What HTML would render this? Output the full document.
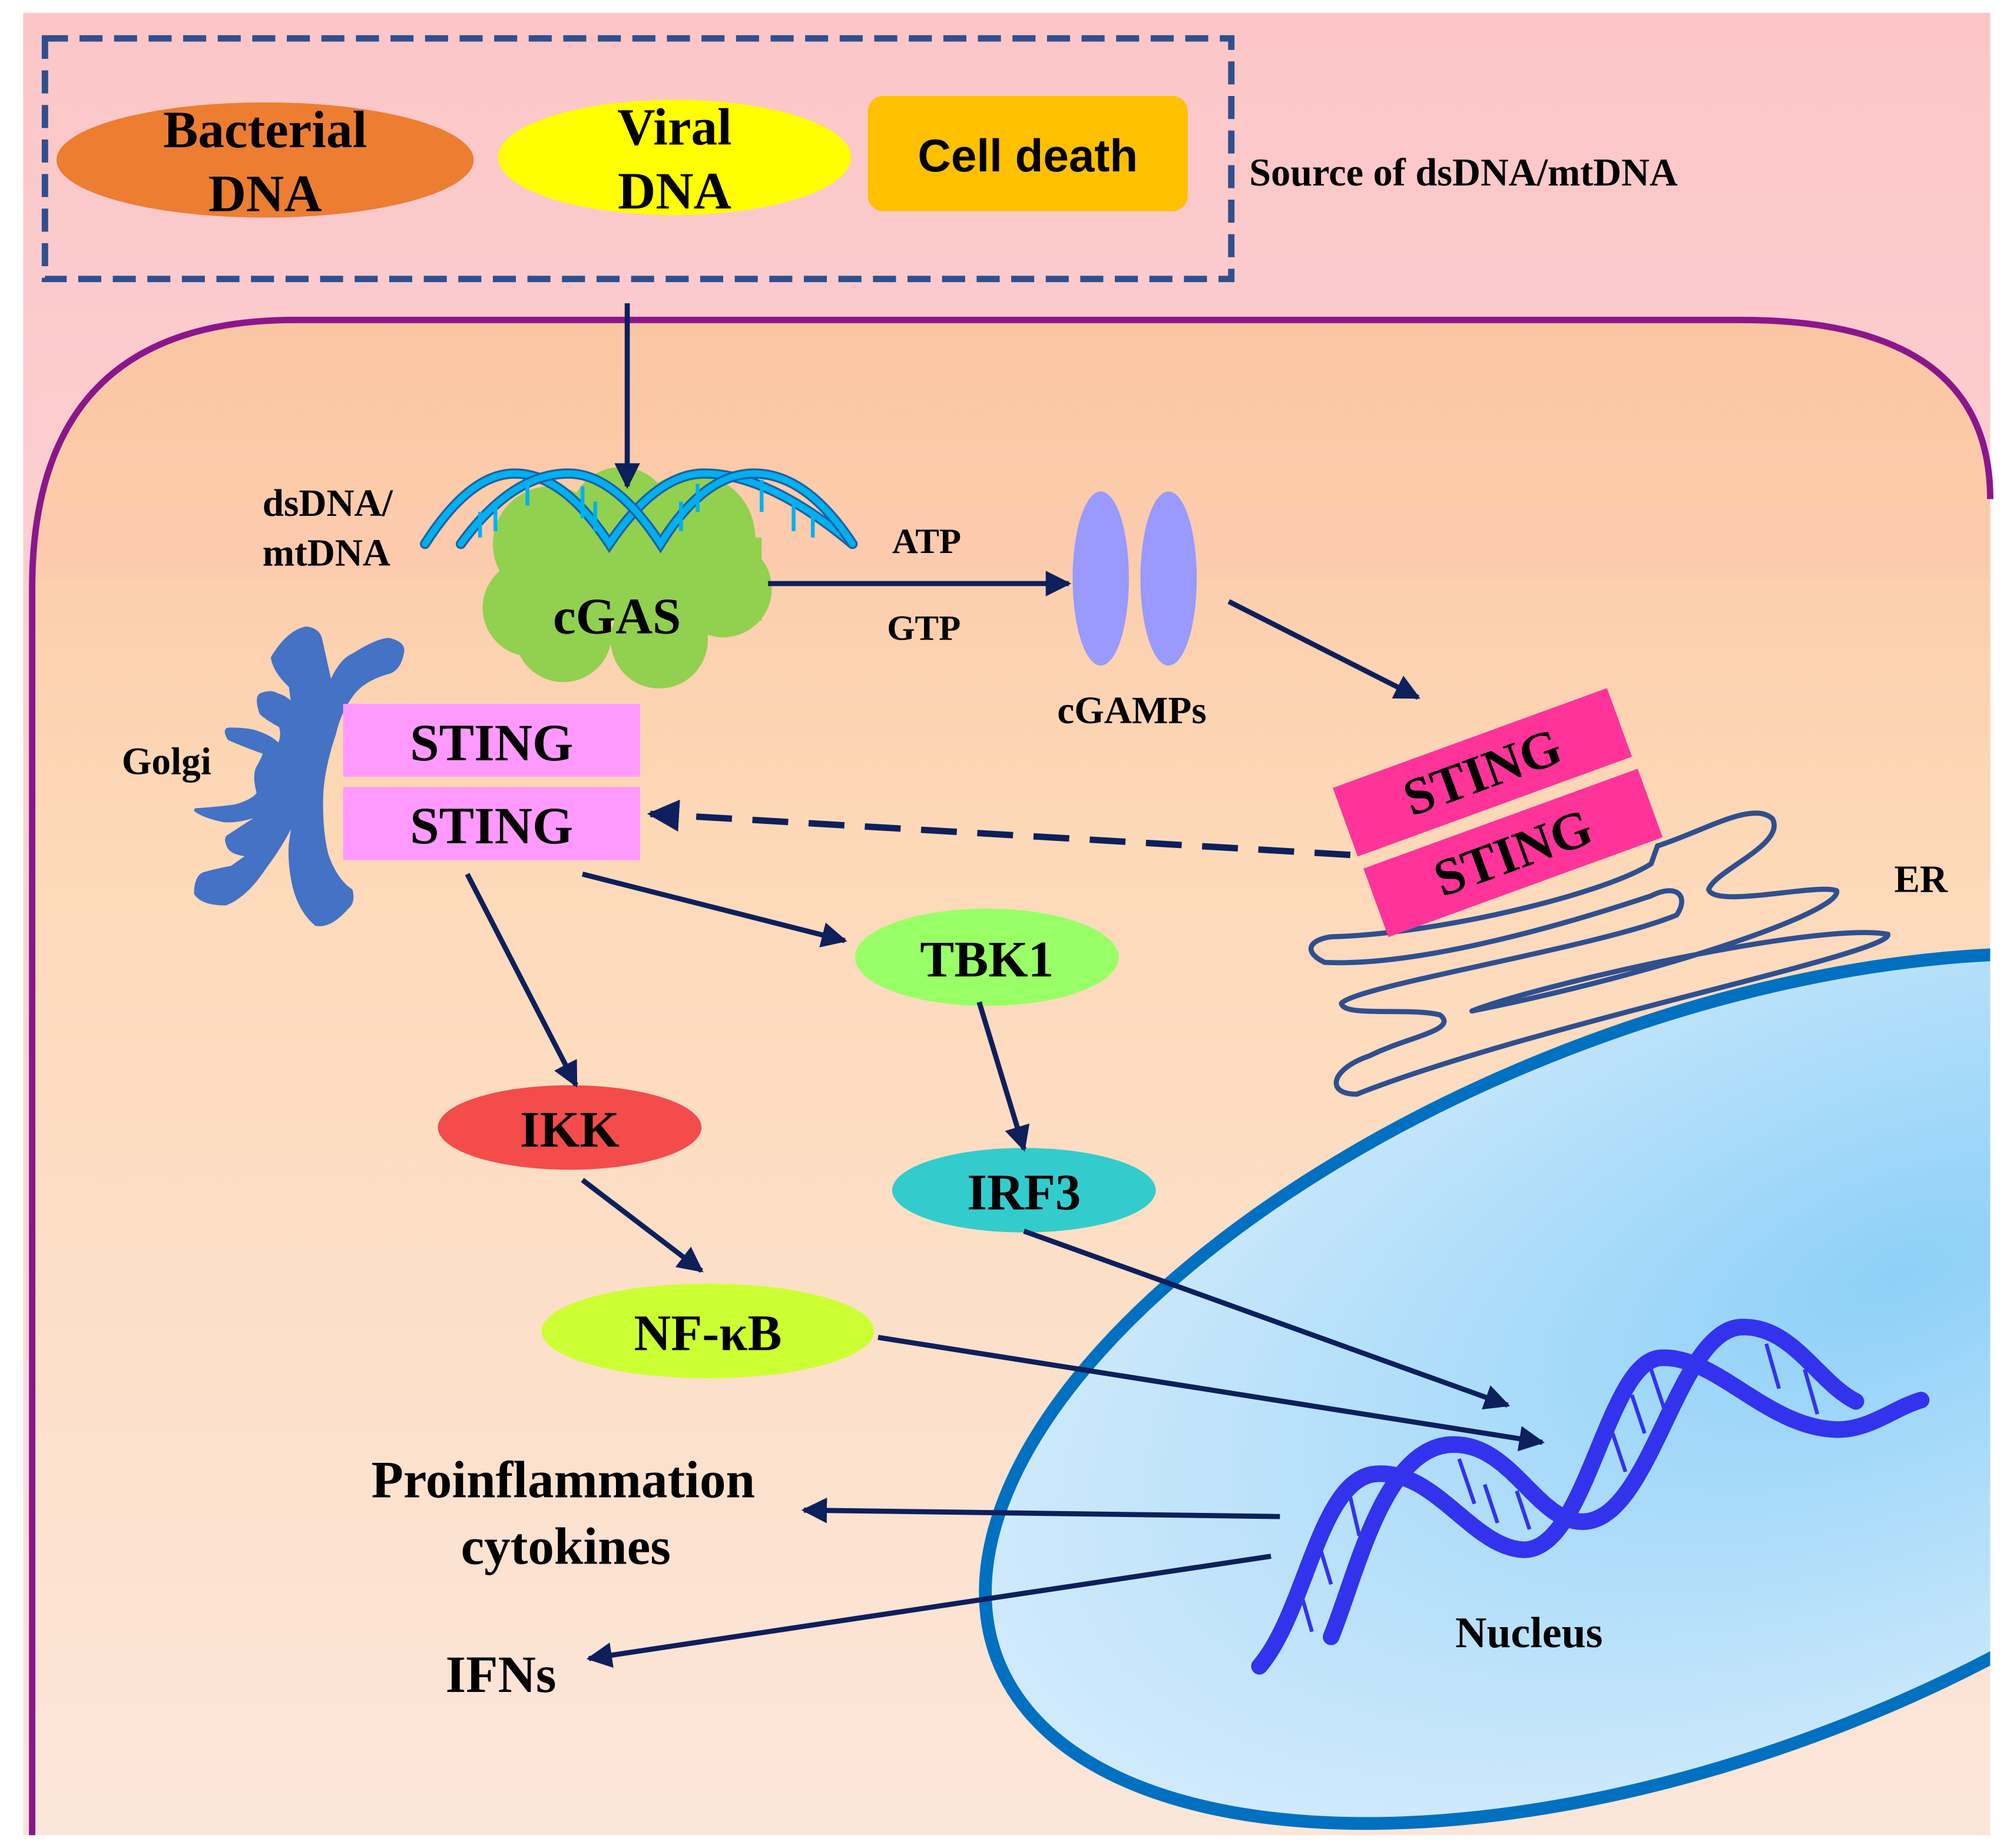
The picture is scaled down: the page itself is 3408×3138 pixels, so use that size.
<!DOCTYPE html>
<html><head><meta charset="utf-8"><style>html,body{margin:0;padding:0;background:#fff;overflow:hidden;width:3408px;height:3138px}svg{display:block}</style></head>
<body>
<svg width="3408" height="3138" viewBox="0 0 1568 1444" xmlns="http://www.w3.org/2000/svg" font-family="'Liberation Serif', serif" font-weight="bold">
<defs>
<linearGradient id="bg" x1="0" y1="0" x2="0" y2="1"><stop offset="0" stop-color="#fcc6c8"/><stop offset="1" stop-color="#fde2e2"/></linearGradient>
<linearGradient id="cell" x1="0" y1="0" x2="0" y2="1"><stop offset="0" stop-color="#fbc5a2"/><stop offset="0.35" stop-color="#fdd9b8"/><stop offset="1" stop-color="#fce6da"/></linearGradient>
<radialGradient id="nuc" cx="0.65" cy="0.45" r="0.7"><stop offset="0" stop-color="#8ed0f8"/><stop offset="1" stop-color="#d5ecfc"/></radialGradient>
<marker id="ah" viewBox="0 0 10 10" refX="9" refY="5" markerWidth="5" markerHeight="5" orient="auto"><path d="M0,0 L10,5 L0,10 z" fill="#0d1f5c"/></marker>
<clipPath id="cc"><path d="M25,1435 L25,460 Q25,250 230,250 L1360,250 Q1555,250 1555,390 L1555,1435 Z"/></clipPath>
</defs>
<rect x="18" y="10" width="1537" height="1424" fill="url(#bg)"/>
<path d="M25,1434 L25,460 Q25,250 230,250 L1360,250 Q1555,250 1555,390 L1555,1434 Z" fill="url(#cell)"/>
<rect x="25" y="395" width="1530" height="58" fill="#fcc8b0" opacity="0.45"/>
<g clip-path="url(#cc)">
<ellipse cx="1330" cy="1085" rx="590" ry="285" transform="rotate(-21 1330 1085)" fill="url(#nuc)" stroke="#0070c0" stroke-width="10"/>
</g>
<path d="M25,1434 L25,460 Q25,250 230,250 L1360,250 Q1555,250 1555,390" fill="none" stroke="#8b168b" stroke-width="5"/>
<rect x="35" y="30" width="927" height="188" fill="none" stroke="#2f4f8f" stroke-width="5" stroke-dasharray="18,9"/>
<ellipse cx="207" cy="125" rx="163" ry="45" fill="#ed7d31"/>
<text x="207" y="115" font-size="41" text-anchor="middle">Bacterial</text><text x="207" y="165" font-size="41" text-anchor="middle">DNA</text>
<ellipse cx="527" cy="123" rx="138" ry="45" fill="#ffff00"/>
<text x="527" y="113" font-size="41" text-anchor="middle">Viral</text><text x="527" y="163" font-size="41" text-anchor="middle">DNA</text>
<rect x="678" y="75" width="250" height="90" rx="12" fill="#ffc000"/>
<text x="803" y="134" font-size="36" text-anchor="middle" font-family="'Liberation Sans', sans-serif">Cell death</text>
<text x="976" y="145" font-size="30.5">Source of dsDNA/mtDNA</text>
<g fill="#92d050">
<circle cx="430" cy="425" r="45"/><circle cx="540" cy="420" r="50"/><circle cx="415" cy="475" r="38"/><circle cx="565" cy="460" r="38"/><circle cx="440" cy="495" r="38"/><circle cx="515" cy="500" r="38"/><circle cx="485" cy="405" r="40"/><rect x="395" y="420" width="200" height="65"/>
</g>
<text x="482" y="495" font-size="40" text-anchor="middle">cGAS</text>
<g fill="none" stroke-linecap="round">
<path d="M332,425 Q367,370 402,370 Q440,370 476,425 Q513,370 550,370 Q600,370 666,425" stroke="#1f5fa0" stroke-width="8"/>
<path d="M332,425 Q367,370 402,370 Q440,370 476,425 Q513,370 550,370 Q600,370 666,425" stroke="#00b0f0" stroke-width="5"/>
<path d="M360,425 Q400,370 444,370 Q480,370 516,425 Q550,370 589,370 Q630,370 666,425" stroke="#1f5fa0" stroke-width="8"/>
<path d="M360,425 Q400,370 444,370 Q480,370 516,425 Q550,370 589,370 Q630,370 666,425" stroke="#00b0f0" stroke-width="5"/>
</g>
<g stroke="#00b0f0" stroke-width="3"><line x1="375" y1="400" x2="375" y2="420"/><line x1="387" y1="392" x2="387" y2="415"/><line x1="412" y1="375" x2="412" y2="395"/><line x1="455" y1="380" x2="455" y2="405"/><line x1="465" y1="392" x2="465" y2="415"/><line x1="532" y1="392" x2="532" y2="415"/><line x1="545" y1="378" x2="545" y2="400"/><line x1="595" y1="375" x2="595" y2="400"/><line x1="620" y1="390" x2="620" y2="415"/><line x1="635" y1="400" x2="635" y2="420"/></g>
<line x1="490" y1="237" x2="490" y2="380" stroke="#0d1f5c" stroke-width="4" marker-end="url(#ah)"/>
<text x="205" y="403" font-size="30">dsDNA/</text><text x="205" y="442" font-size="30">mtDNA</text>
<line x1="600" y1="456" x2="835" y2="456" stroke="#0d1f5c" stroke-width="4" marker-end="url(#ah)"/>
<text x="697" y="432" font-size="28">ATP</text><text x="693" y="500" font-size="28">GTP</text>
<ellipse cx="860" cy="452" rx="22" ry="68" fill="#9999ff"/><ellipse cx="913" cy="452" rx="22" ry="68" fill="#9999ff"/>
<text x="826" y="565" font-size="30">cGAMPs</text>
<line x1="960" y1="470" x2="1108" y2="545" stroke="#0d1f5c" stroke-width="4" marker-end="url(#ah)"/>
<path fill="#4472c4" stroke="#4472c4" stroke-width="3" stroke-linejoin="round" d="M213,514 Q225,494 239,491 Q248,492 250,499 L258,535 Q266,516 276,512 Q295,500 304,500 Q316,503 314,510 Q312,522 304,525 Q285,530 276,541 Q265,555 261,573 Q252,600 251,620 Q250,648 255,668 Q262,688 274,696 Q276,705 271,709 Q258,724 247,722 Q235,712 230,693 Q226,675 227,660 L230,639 Q220,660 207,677 Q192,700 176,706 Q158,706 153,698 Q153,686 159,683 Q170,680 181,678 L195,668 Q182,667 179,662 Q176,656 178,654 Q195,643 210,633 Q190,642 175,641 Q160,638 153,633 Q170,632 184,630 Q198,626 202,620 Q198,605 202,599 Q206,592 207,588 Q190,582 179,577 Q175,570 179,570 Q192,570 199,572 Q212,576 218,583 Q222,574 219,567 Q208,561 204,557 Q200,545 204,543 Q212,540 216,543 Q226,546 228,552 L230,580 Q230,555 227,536 Q215,525 213,514 Z"/>
<text x="95" y="605" font-size="30">Golgi</text>
<rect x="268" y="550" width="232" height="57" fill="#ff99ff"/><rect x="268" y="615" width="232" height="57" fill="#ff99ff"/>
<text x="384" y="594" font-size="41" text-anchor="middle">STING</text><text x="384" y="659" font-size="41" text-anchor="middle">STING</text>
<path d="M1295,661 C1330,650 1370,625 1385,640 C1395,660 1340,680 1335,695 C1340,710 1420,690 1435,696 C1440,712 1300,760 1150,790 C1200,770 1420,720 1475,730 C1480,745 1200,800 1060,855 C1035,855 1040,835 1070,825 C1100,810 1140,805 1125,793 C1100,787 1050,795 1048,784 C1060,770 1250,740 1310,715 C1320,700 1310,690 1290,700 C1200,730 1100,755 1035,752 C1020,745 1020,735 1040,732 C1120,730 1250,700 1290,675 Z" fill="none" stroke="#2f4f8f" stroke-width="4" stroke-linejoin="round"/>
<g transform="rotate(-20 1158 603)"><rect x="1044" y="575" width="228" height="57" fill="#ff3399"/><text x="1158" y="617" font-size="41" text-anchor="middle">STING</text></g>
<g transform="rotate(-20 1182 666)"><rect x="1068" y="638" width="228" height="57" fill="#ff3399"/><text x="1182" y="680" font-size="41" text-anchor="middle">STING</text></g>
<text x="1480" y="697" font-size="30">ER</text>
<line x1="1055" y1="668" x2="508" y2="636" stroke="#0d1f5c" stroke-width="5" stroke-dasharray="28,16" marker-end="url(#ah)"/>
<ellipse cx="771" cy="748" rx="103" ry="38" fill="#99ff66"/><text x="771" y="763" font-size="40" text-anchor="middle">TBK1</text>
<ellipse cx="445" cy="881" rx="103" ry="33" fill="#f44b4b"/><text x="445" y="896" font-size="40" text-anchor="middle">IKK</text>
<ellipse cx="800" cy="930" rx="103" ry="33" fill="#33cccc"/><text x="800" y="945" font-size="40" text-anchor="middle">IRF3</text>
<ellipse cx="553" cy="1040" rx="130" ry="37" fill="#ccff33"/><text x="553" y="1055" font-size="40" text-anchor="middle">NF-κB</text>
<g stroke="#0d1f5c" stroke-width="4" marker-end="url(#ah)">
<line x1="455" y1="683" x2="660" y2="735"/><line x1="365" y1="683" x2="450" y2="848"/><line x1="765" y1="783" x2="800" y2="898"/><line x1="455" y1="922" x2="548" y2="993"/><line x1="800" y1="962" x2="1178" y2="1098"/><line x1="686" y1="1045" x2="1205" y2="1127"/><line x1="1000" y1="1185" x2="628" y2="1180"/><line x1="993" y1="1216" x2="460" y2="1296"/>
</g>
<g fill="none" stroke="#3333ee" stroke-linecap="round">
<path d="M984,1302 C1020,1260 1030,1160 1072,1152 C1120,1145 1150,1210 1191,1211 C1240,1210 1255,1065 1297,1061 C1340,1058 1380,1115 1434,1117 C1460,1118 1480,1100 1501,1094" stroke-width="13"/>
<path d="M1040,1279 C1060,1230 1080,1135 1131,1129 C1180,1124 1200,1190 1237,1189 C1290,1188 1310,1040 1360,1037 C1400,1035 1420,1080 1450,1095" stroke-width="13"/>
</g>
<g stroke="#3333ee" stroke-width="3"><line x1="1015" y1="1240" x2="1025" y2="1275"/><line x1="1030" y1="1205" x2="1040" y2="1238"/><line x1="1055" y1="1170" x2="1062" y2="1200"/><line x1="1140" y1="1140" x2="1152" y2="1175"/><line x1="1160" y1="1160" x2="1170" y2="1190"/><line x1="1185" y1="1165" x2="1195" y2="1195"/><line x1="1260" y1="1120" x2="1270" y2="1150"/><line x1="1275" y1="1090" x2="1285" y2="1120"/><line x1="1290" y1="1070" x2="1300" y2="1100"/><line x1="1380" y1="1050" x2="1390" y2="1085"/><line x1="1410" y1="1070" x2="1420" y2="1105"/></g>
<text x="290" y="1170" font-size="41">Proinflammation</text>
<text x="360" y="1222" font-size="41">cytokines</text>
<text x="348" y="1322" font-size="41">IFNs</text>
<text x="1137" y="1287" font-size="34">Nucleus</text>
</svg>
</body></html>
